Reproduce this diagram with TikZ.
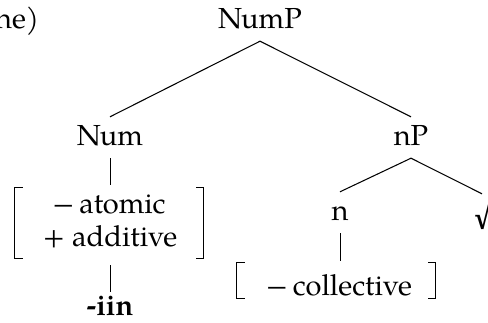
\documentclass[tikz,border=0pt]{standalone}
\usepackage{fontspec}
\setmainfont{TeX Gyre Pagella}
\begin{document}
\begin{tikzpicture}[x=1pt,y=-1pt,
  lab/.style={font=\fontsize{29}{35}\selectfont, inner xsep=0pt, inner ysep=8pt, text height=20pt, text depth=5pt},
  boldlab/.style={lab, font=\fontsize{29}{35}\selectfont\bfseries, inner ysep=3pt},
  frame/.style={inner sep=0pt, draw=none},
  edge/.style={line width=1.05pt},
  vedge/.style={line width=0.8pt},
  brk/.style={line width=1.3pt}]
\useasboundingbox (0,0) rectangle (488,322);
% labels
\node[lab, anchor=base west] (ne) at (-5,28) {ne)};
\node[lab, anchor=base] (NumP) at (260,28) {NumP};
\node[lab, anchor=base] (Num) at (110,145) {Num};
\node[lab, anchor=base] (nP) at (411,145) {nP};
\node[lab, anchor=base] (n) at (340,220) {n};
\node[lab, anchor=base] (root) at (482,222) {√};
% feature matrix under Num
\node[frame, minimum width=188pt, minimum height=80pt] (feat) at (109,225) {};
\node[lab, anchor=base] (atomic) at (109,213) {−\,atomic};
\node[lab, anchor=base] (additive) at (110,246) {+ additive};
\draw[brk] ([shift={(8,3)}]feat.north west) -- ([shift={(0,3)}]feat.north west)
  -- ([shift={(0,-7)}]feat.south west) -- ([shift={(8,-7)}]feat.south west);
\draw[brk] ([shift={(-7,3)}]feat.north east) -- ([shift={(0,3)}]feat.north east)
  -- ([shift={(0,-7)}]feat.south east) -- ([shift={(-7,-7)}]feat.south east);
\node[boldlab, anchor=base] (iin) at (110,315) {-iin};
% feature under n
\node[frame, minimum width=198pt, minimum height=38pt] (coll) at (336,280) {};
\node[lab, anchor=base] (collective) at (339,295) {−\,collective};
\draw[brk] ([shift={(8,2)}]coll.north west) -- ([shift={(0,2)}]coll.north west)
  -- ([shift={(0,-1)}]coll.south west) -- ([shift={(8,-1)}]coll.south west);
\draw[brk] ([shift={(-7,2)}]coll.north east) -- ([shift={(0,2)}]coll.north east)
  -- ([shift={(0,-1)}]coll.south east) -- ([shift={(-7,-1)}]coll.south east);
% edges
\draw[edge] (NumP.south) -- (Num.north);
\draw[edge] (NumP.south) -- (nP.north);
\draw[vedge] (Num.south) -- (Num.south |- feat.north);
\draw[vedge] (Num.south |- feat.south) -- (iin.north);
\draw[edge] (nP.south) -- (n.north);
\draw[edge] (nP.south) -- (root.north);
\draw[vedge] (n.south) -- (n.south |- coll.north);
\end{tikzpicture}
\end{document}
